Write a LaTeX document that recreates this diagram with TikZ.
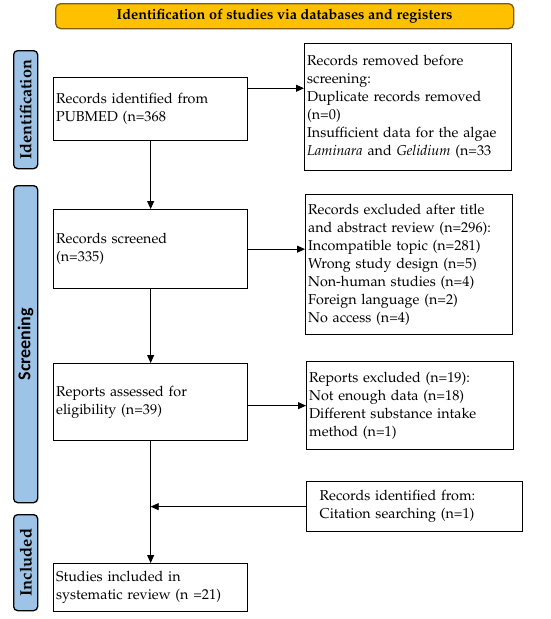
\documentclass[tikz,border=0pt]{standalone}
\usepackage[T1]{fontenc}
\usepackage{fontspec}
\newfontfamily\carl{Carlito}
\usetikzlibrary{arrows.meta,calc}
\newcommand\pal{\fontencoding{T1}\fontfamily{ppl}\selectfont}
\definecolor{bannerfill}{HTML}{FFC000}
\definecolor{bannerline}{HTML}{7F6000}
\definecolor{barfill}{HTML}{9DC3E6}
\tikzset{
  box/.style={draw, line width=1.3pt, inner xsep=2pt, inner ysep=0pt, align=left, anchor=north west,
    font=\pal\fontsize{14.3}{18}\selectfont},
  bar/.style={draw, line width=1.3pt, fill=barfill, rounded corners=4pt, anchor=north west, inner sep=0pt},
  arr/.style={line width=0.8pt, -{Triangle[length=8pt,width=7pt]}},
  ln/.style={line width=0.8pt}
}
\begin{document}
\begin{tikzpicture}[x=1pt,y=-1pt]
\useasboundingbox (0,0) rectangle (550,619);
% banner
\node[draw=bannerline, fill=bannerfill, line width=1.3pt, rounded corners=5pt, anchor=north west,
  minimum width=458pt, minimum height=25pt, inner sep=0pt,
  font=\pal\bfseries\fontsize{14.4}{16}\selectfont] (banner) at (55,3)
  {Identification of studies via databases and registers};
% side bars
\node[bar, minimum width=24pt, minimum height=118pt] (idbar) at (13,50) {};
\node[rotate=90, font=\pal\bfseries\fontsize{16.2}{18}\selectfont] (idlab) at (idbar.center) {Identification};
\node[bar, minimum width=24pt, minimum height=317pt] (scrbar) at (13,185) {};
\node[rotate=90, font=\carl\bfseries\fontsize{18}{18}\selectfont] (scrlab) at (scrbar.center) {Screening};
\node[bar, minimum width=24pt, minimum height=96pt] (incbar) at (13,514) {};
\node[rotate=90, font=\pal\bfseries\fontsize{16.5}{18}\selectfont] (inclab) at (incbar.center) {Included};
% left boxes
\node[box, minimum width=194pt, minimum height=63pt, text width=189pt] (b1) at (53,77)
  {Records identified from\\PUBMED (n=368};
\node[box, minimum width=194pt, minimum height=79pt, text width=189pt] (b2) at (53,209)
  {Records screened\\(n=335)};
\node[box, minimum width=194pt, minimum height=77pt, text width=189pt] (b3) at (53,363)
  {Reports assessed for\\eligibility (n=39)};
\node[box, minimum width=194pt, minimum height=48pt, text width=189pt] (b4) at (53,563)
  {Studies included in\\systematic review (n =21)};
% right boxes
\node[box, minimum width=207pt, minimum height=127pt, text width=202pt] (r1) at (304,43)
  {Records removed before\\screening:\\Duplicate records removed\\(n=0)\\Insufficient data for the algae\\\textit{Laminara} and \textit{Gelidium} (n=33};
\node[box, minimum width=207pt, minimum height=140pt, text width=202pt] (r2) at (305,194)
  {Records excluded after title\\and abstract review (n=296):\\Incompatible topic (n=281)\\Wrong study design (n=5)\\Non-human studies (n=4)\\Foreign language (n=2)\\No access (n=4)};
\node[box, minimum width=207pt, minimum height=88pt, text width=202pt] (r3) at (306,361)
  {Reports excluded (n=19):\\Not enough data (n=18)\\Different substance intake\\method (n=1)};
\node[box, minimum width=207pt, minimum height=50pt, text width=190pt, inner xsep=13pt] (cit) at (306,481)
  {Records identified from:\\Citation searching (n=1)};
% connectors
\coordinate (a1) at ($(b1.north east)!0.175!(b1.south east)$);
\draw[arr] (a1) -- (a1 -| r1.west);
\draw[arr] (b2.east) -- (b2.east -| r2.west);
\draw[arr] (b3.east |- r3.west) -- (r3.west);
\draw[arr] (b1.south) -- (b2.north);
\draw[arr] (b2.south) -- (b3.north);
\draw[arr] (b3.south) -- (b4.north);
\draw[arr] (cit.west) -- (cit.west -| b3.south);
\end{tikzpicture}
\end{document}
